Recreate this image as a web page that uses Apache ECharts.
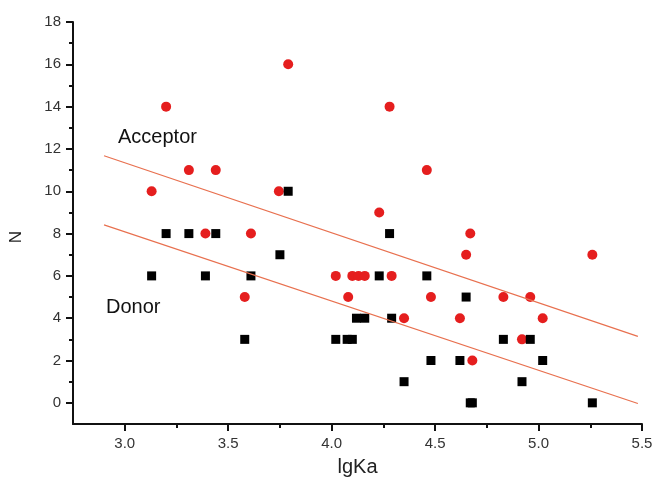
<!DOCTYPE html>
<html>
<head>
<meta charset="utf-8">
<script src="https://cdn.jsdelivr.net/npm/echarts@6/dist/echarts.min.js"></script>
<style>
  html, body { margin: 0; padding: 0; background: #fff; }
  #main { width: 654px; height: 484px; }
</style>
</head>
<body>
<div id="main"></div>
<script>
var chart = echarts.init(document.getElementById('main'));

// Acceptor (red circles)
var acceptorX = [3.13, 3.20, 3.31, 3.44, 3.39, 3.61, 3.745, 3.79, 4.28, 4.46, 4.23, 4.67, 3.58, 4.65, 5.26,
                 4.02, 4.10, 4.13, 4.16, 4.29, 4.08, 4.48, 4.83, 4.96, 4.35, 4.62, 5.02, 4.92, 4.68];
var acceptorN = [10, 14, 11, 11, 8, 8, 10, 16, 14, 11, 9, 8, 5, 7, 7,
                 6, 6, 6, 6, 6, 5, 5, 5, 5, 4, 4, 4, 3, 2];

// Donor (black squares)
var donorX = [3.13, 3.20, 3.31, 3.39, 3.44, 3.58, 3.61, 3.75, 3.79, 4.02, 4.075, 4.10, 4.12, 4.16, 4.23,
              4.28, 4.29, 4.35, 4.46, 4.48, 4.62, 4.65, 4.67, 4.68, 4.83, 4.92, 4.96, 5.02, 5.26];
var donorN = [6, 8, 8, 6, 8, 3, 6, 7, 10, 3, 3, 3, 4, 4, 6,
              8, 4, 1, 6, 2, 2, 5, 0, 0, 3, 1, 3, 2, 0];

// fitted lines (end points)
var acceptorFitX = [2.90, 5.48];
var acceptorFitN = [11.68, 3.14];
var donorFitX = [2.90, 5.48];
var donorFitN = [8.41, -0.03];

var xLabels = [3.0, 3.5, 4.0, 4.5, 5.0, 5.5];
var xMinor = [3.25, 3.75, 4.25, 4.75, 5.25];
var yLabels = [0, 2, 4, 6, 8, 10, 12, 14, 16, 18];
var yMinor = [1, 3, 5, 7, 9, 11, 13, 15, 17];

function pairs(xs, ys) {
    var res = [];
    for (var i = 0; i < xs.length; i++) {
        res.push([xs[i], ys[i]]);
    }
    return res;
}

var font = 'Liberation Sans, Arial, sans-serif';

function makeAxis(min, max, pos, ticks, tickLen, showLine) {
    return {
        type: 'value',
        min: min, max: max,
        position: pos,
        offset: 0,
        splitLine: { show: false },
        axisLine: { show: showLine, onZero: false, lineStyle: { color: '#111', width: 2 } },
        axisTick: { show: true, inside: false, length: tickLen, customValues: ticks,
                    lineStyle: { color: '#111', width: 2 } },
        axisLabel: { show: false }
    };
}

var xMain = makeAxis(2.75, 5.5, 'bottom', xLabels, 7, true);
xMain.name = 'lgKa';
xMain.nameLocation = 'middle';
xMain.nameGap = 33;
xMain.nameTextStyle = { fontFamily: font, fontSize: 20, color: '#222' };
xMain.axisLabel = { show: true, customValues: xLabels, margin: 12, fontFamily: font, fontSize: 15, color: '#333',
                    formatter: function (v) { return v.toFixed(1); } };

var yMain = makeAxis(-1, 18, 'left', yLabels, 7, true);
yMain.name = 'N';
yMain.nameLocation = 'middle';
yMain.nameGap = 48;
yMain.nameRotate = 90;
yMain.nameTextStyle = { fontFamily: font, fontSize: 17, color: '#222', padding: [0, 28, 0, 0] };
yMain.axisLabel = { show: true, customValues: yLabels, margin: 12, fontFamily: font, fontSize: 15, color: '#333' };

var option = {
    backgroundColor: '#fff',
    animation: false,
    grid: { left: 73, right: 12, top: 22, bottom: 60, containLabel: false, outerBoundsMode: 'none' },
    xAxis: [xMain, makeAxis(2.75, 5.5, 'bottom', xMinor, 4, false)],
    yAxis: [yMain, makeAxis(-1, 18, 'left', yMinor, 4, false)],
    graphic: [
        { type: 'text', left: 118, top: 127,
          style: { text: 'Acceptor', fill: '#111', font: '20px ' + font } },
        { type: 'text', left: 106, top: 297,
          style: { text: 'Donor', fill: '#111', font: '20px ' + font } }
    ],
    series: [
        {
            name: 'Acceptor fit', type: 'line', symbol: 'none', silent: true,
            lineStyle: { color: '#e8704f', width: 1.2 },
            data: pairs(acceptorFitX, acceptorFitN)
        },
        {
            name: 'Donor fit', type: 'line', symbol: 'none', silent: true,
            lineStyle: { color: '#e8704f', width: 1.2 },
            data: pairs(donorFitX, donorFitN)
        },
        {
            name: 'Acceptor', type: 'scatter', symbol: 'circle', symbolSize: 10,
            itemStyle: { color: '#e51e1e', opacity: 1 },
            data: pairs(acceptorX, acceptorN)
        },
        {
            name: 'Donor', type: 'scatter', symbol: 'rect', symbolSize: 9,
            itemStyle: { color: '#000', opacity: 1 },
            data: pairs(donorX, donorN)
        }
    ]
};

chart.setOption(option);
</script>
</body>
</html>
